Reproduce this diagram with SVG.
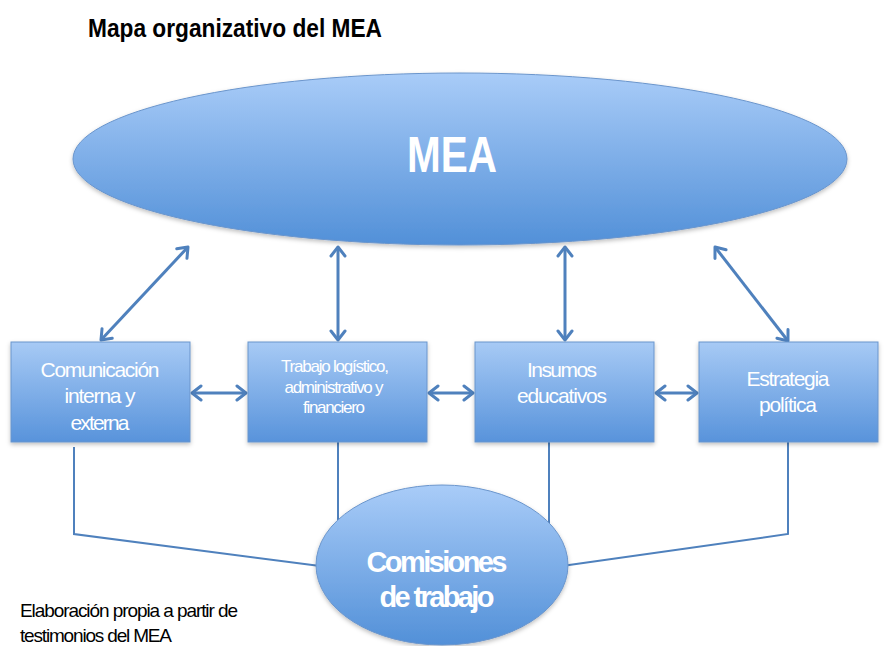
<svg xmlns="http://www.w3.org/2000/svg" width="885" height="646" viewBox="0 0 885 646">
<defs>
<linearGradient id="gE" x1="0" y1="0" x2="0" y2="1"><stop offset="0" stop-color="#a9ccf8"/><stop offset="1" stop-color="#5290d8"/></linearGradient>
<linearGradient id="gB" x1="0" y1="0" x2="0" y2="1"><stop offset="0" stop-color="#a7caf5"/><stop offset="1" stop-color="#5893db"/></linearGradient>
<filter id="sh" x="-10%" y="-10%" width="120%" height="130%"><feDropShadow dx="0" dy="2" stdDeviation="2" flood-color="#000" flood-opacity="0.25"/></filter>
<marker id="ah" markerUnits="userSpaceOnUse" markerWidth="16" markerHeight="18" viewBox="0 0 16 18" refX="12" refY="9" orient="auto-start-reverse"><path d="M3,2 L12,9 L3,16" fill="none" stroke="#4f81bd" stroke-width="3" stroke-linejoin="round" stroke-linecap="round"/></marker>
</defs>
<style>
.box{fill:url(#gB);stroke:#6a95cc;stroke-width:1;filter:url(#sh)}
.ell{fill:url(#gE);stroke:#6a95cc;stroke-width:1;filter:url(#sh)}
.arr{fill:none;stroke:#4f81bd;stroke-width:3;marker-start:url(#ah);marker-end:url(#ah)}
.ln{fill:none;stroke:#4f81bd;stroke-width:2}
.t{font-family:"Liberation Sans",Arial,sans-serif;fill:#fff;text-anchor:middle}
.b{font-weight:bold}
.k{font-family:"Liberation Sans",Arial,sans-serif;fill:#000}
</style>
<text class="k b" x="88" y="37" font-size="25" textLength="294" lengthAdjust="spacingAndGlyphs">Mapa organizativo del MEA</text>
<g id="connectors">
<line class="arr" x1="188" y1="247" x2="101" y2="340"/>
<line class="arr" x1="338" y1="247" x2="338" y2="340"/>
<line class="arr" x1="565" y1="247" x2="565" y2="340"/>
<line class="arr" x1="715" y1="247" x2="788" y2="341"/>
<line class="arr" x1="192" y1="393" x2="246" y2="393"/>
<line class="arr" x1="429" y1="393" x2="473" y2="393"/>
<line class="arr" x1="656" y1="393" x2="697" y2="393"/>
<polyline class="ln" points="74,447 74,534 320,566"/>
<line class="ln" x1="338" y1="442" x2="338" y2="530"/>
<line class="ln" x1="549" y1="442" x2="549" y2="530"/>
<polyline class="ln" points="788,442 788,534 562,566"/>
</g>
<g id="mea">
<ellipse class="ell" cx="460" cy="159" rx="387" ry="86"/>
<text class="t b" x="452" y="172" font-size="50" textLength="90" lengthAdjust="spacingAndGlyphs">MEA</text>
</g>
<g id="comunicacion">
<rect class="box" x="11" y="342" width="179" height="100"/>
<text class="t" font-size="21" lengthAdjust="spacingAndGlyphs"><tspan x="100" y="377" textLength="119">Comunicación</tspan><tspan x="100" y="403" textLength="71">interna y</tspan><tspan x="100" y="430" textLength="59">externa</tspan></text>
</g>
<g id="trabajo">
<rect class="box" x="248" y="342" width="179" height="100"/>
<text class="t" font-size="17" lengthAdjust="spacingAndGlyphs"><tspan x="335" y="372" textLength="108">Trabajo logístico,</tspan><tspan x="334" y="393" textLength="99">administrativo y</tspan><tspan x="334" y="413" textLength="62">financiero</tspan></text>
</g>
<g id="insumos">
<rect class="box" x="475" y="342" width="179" height="100"/>
<text class="t" font-size="21" lengthAdjust="spacingAndGlyphs"><tspan x="562" y="377" textLength="70">Insumos</tspan><tspan x="562" y="403" textLength="90">educativos</tspan></text>
</g>
<g id="estrategia">
<rect class="box" x="699" y="342" width="179" height="100"/>
<text class="t" font-size="21" lengthAdjust="spacingAndGlyphs"><tspan x="788" y="386" textLength="83">Estrategia</tspan><tspan x="788" y="412" textLength="58">política</tspan></text>
</g>
<g id="comisiones">
<ellipse class="ell" cx="442" cy="565" rx="126" ry="80"/>
<text class="t b" font-size="29" lengthAdjust="spacingAndGlyphs"><tspan x="437" y="572" textLength="141">Comisiones</tspan><tspan x="437" y="607" textLength="115">de trabajo</tspan></text>
</g>
<text class="k" font-size="19" lengthAdjust="spacingAndGlyphs"><tspan x="20" y="617" textLength="218">Elaboración propia a partir de</tspan><tspan x="20" y="642" textLength="152">testimonios del MEA</tspan></text>
</svg>
